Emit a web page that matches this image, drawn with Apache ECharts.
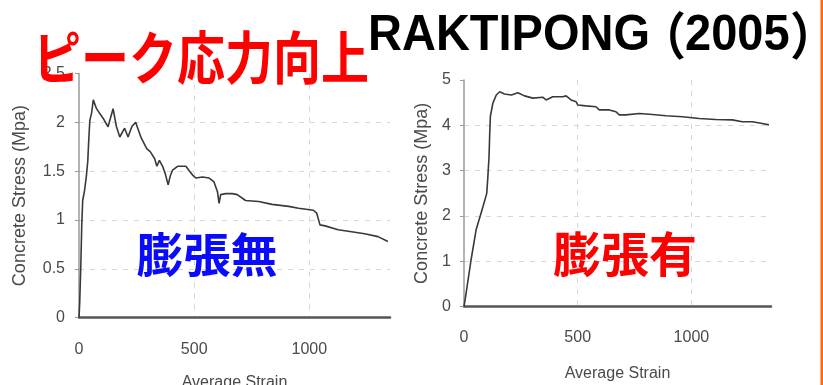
<!DOCTYPE html>
<html>
<head>
<meta charset="utf-8">
<script src="https://cdn.jsdelivr.net/npm/echarts@6/dist/echarts.min.js"></script>
<style>
  html, body { margin: 0; padding: 0; background: #ffffff; }
  #chart { width: 823px; height: 385px; }
</style>
</head>
<body>
<div id="chart"></div>
<script>
// Stress-strain curves, unexpanded (膨張無) and expanded (膨張有) concrete
var strainTicks = [0, 500, 1000];
var leftYTicks = [0, 0.5, 1, 1.5, 2, 2.5];
var rightYTicks = [0, 1, 2, 3, 4, 5];

var plainStrain = [0, 3, 8, 12, 16, 24, 32, 38, 43, 47, 55, 62, 76, 105, 126, 148, 162, 177, 198, 213, 230, 246, 258, 270, 294, 309, 328, 338, 349, 363, 375, 387, 396, 406, 428, 464, 480, 493, 507, 536, 565, 586, 601, 608, 615, 637, 665, 687, 723, 780, 838, 910, 953, 1017, 1032, 1046, 1068, 1125, 1183, 1240, 1298, 1341];
var plainStress = [0, 0.15, 0.55, 0.95, 1.2, 1.3, 1.45, 1.6, 1.85, 2.02, 2.1, 2.23, 2.14, 2.04, 1.955, 2.14, 1.96, 1.85, 1.94, 1.85, 1.96, 2.0, 1.92, 1.84, 1.73, 1.70, 1.63, 1.55, 1.61, 1.55, 1.47, 1.36, 1.45, 1.51, 1.55, 1.55, 1.5, 1.46, 1.43, 1.44, 1.43, 1.39, 1.29, 1.17, 1.26, 1.27, 1.27, 1.26, 1.2, 1.19, 1.16, 1.14, 1.12, 1.10, 1.07, 0.95, 0.94, 0.90, 0.88, 0.86, 0.83, 0.78];

var expStrain = [0, 9, 31, 53, 83, 100, 105, 110, 113, 116, 124, 127, 142, 157, 178, 208, 237, 266, 303, 346, 361, 390, 434, 449, 471, 493, 500, 536, 580, 595, 639, 668, 683, 712, 771, 829, 888, 961, 1034, 1107, 1180, 1224, 1268, 1312, 1341];
var expStress = [0, 0.29, 1.03, 1.69, 2.2, 2.5, 2.87, 3.3, 3.8, 4.2, 4.41, 4.49, 4.67, 4.74, 4.69, 4.67, 4.72, 4.65, 4.6, 4.62, 4.56, 4.63, 4.63, 4.65, 4.56, 4.52, 4.45, 4.43, 4.41, 4.34, 4.34, 4.3, 4.23, 4.23, 4.26, 4.24, 4.21, 4.19, 4.15, 4.13, 4.12, 4.08, 4.08, 4.04, 4.01];

function pairs(xs, ys) {
  return xs.map(function (x, i) { return [x, ys[i]]; });
}

var axisFont = 'Liberation Sans, Arial, sans-serif';
var labelColor = '#4a4a4a';
var gridDash = {
  show: true, showMinLine: false, showMaxLine: false,
  lineStyle: { color: '#d6d6d6', type: [5, 6], width: 1 }
};

function xAxisFor(gridIndex, nameGap, margin) {
  return {
    type: 'value', gridIndex: gridIndex, min: 0, max: 1350, interval: 500,
    name: 'Average Strain', nameLocation: 'middle', nameGap: nameGap,
    nameTextStyle: { fontFamily: axisFont, fontSize: 16, color: labelColor },
    axisLine: { lineStyle: { color: '#555555', width: 2.5 } },
    axisTick: { show: false },
    axisLabel: {
      margin: margin, fontFamily: axisFont, fontSize: 16, color: labelColor,
      formatter: function (v) { return strainTicks.indexOf(v) >= 0 ? String(v) : ''; }
    },
    splitLine: gridDash
  };
}

function yAxisFor(gridIndex, max, interval, ticks, nameGap, margin) {
  return {
    type: 'value', gridIndex: gridIndex, min: 0, max: max, interval: interval,
    name: 'Concrete Stress (Mpa)', nameLocation: 'middle', nameGap: nameGap,
    nameTextStyle: { fontFamily: axisFont, fontSize: 18, color: labelColor },
    axisLine: { show: true, lineStyle: { color: '#9a9a9a', width: 1.5 } },
    axisTick: { show: true, length: 4, lineStyle: { color: '#9a9a9a' } },
    axisLabel: {
      margin: margin, fontFamily: axisFont, fontSize: 16, color: labelColor,
      formatter: function (v) { return ticks.indexOf(v) >= 0 ? String(v) : ''; }
    },
    splitLine: gridDash
  };
}

var chart = echarts.init(document.getElementById('chart'), null, { renderer: 'canvas' });

chart.setOption({
  backgroundColor: '#ffffff',
  animation: false,
  grid: [
    { left: 79, right: 433, top: 73.5, bottom: 67.3, outerBoundsMode: 'none', containLabel: false },
    { left: 464, right: 52, top: 80, bottom: 78.3, outerBoundsMode: 'none', containLabel: false }
  ],
  xAxis: [xAxisFor(0, 57, 24), xAxisFor(1, 59, 23)],
  yAxis: [
    yAxisFor(0, 2.5, 0.5, leftYTicks, 50, 14),
    yAxisFor(1, 5, 1, rightYTicks, 33, 13)
  ],
  series: [
    {
      type: 'line', xAxisIndex: 0, yAxisIndex: 0, data: pairs(plainStrain, plainStress),
      showSymbol: false, lineStyle: { color: '#3c3838', width: 1.6 }, z: 3
    },
    {
      type: 'line', xAxisIndex: 1, yAxisIndex: 1, data: pairs(expStrain, expStress),
      showSymbol: false, lineStyle: { color: '#3c3838', width: 1.6 }, z: 3
    }
  ],
  graphic: [
    {
      type: 'text', x: 33, y: 57, scaleY: 1.18, z: 100,
      style: {
        text: 'ピーク応力向上', fill: '#ff0000',
        font: 'bold 48px "Noto Sans CJK JP"', textAlign: 'left', textVerticalAlign: 'middle'
      }
    },
    {
      type: 'text', x: 368, y: 36, scaleY: 1.08, z: 100,
      style: {
        text: 'RAKTIPONG', fill: '#000000',
        font: 'bold 47px "Liberation Sans", Arial, sans-serif', textAlign: 'left', textVerticalAlign: 'middle'
      }
    },
    {
      type: 'text', x: 686, y: 36, scaleY: 1.08, z: 100,
      style: {
        text: '（', fill: '#000000',
        font: 'bold 47px "Noto Sans CJK JP"', textAlign: 'right', textVerticalAlign: 'middle'
      }
    },
    {
      type: 'text', x: 685, y: 36, scaleY: 1.08, z: 100,
      style: {
        text: '2005', fill: '#000000',
        font: 'bold 47px "Liberation Sans", Arial, sans-serif', textAlign: 'left', textVerticalAlign: 'middle'
      }
    },
    {
      type: 'text', x: 790, y: 36, scaleY: 1.08, z: 100,
      style: {
        text: '）', fill: '#000000',
        font: 'bold 47px "Noto Sans CJK JP"', textAlign: 'left', textVerticalAlign: 'middle'
      }
    },
    {
      type: 'text', x: 207, y: 254, z: 100,
      style: {
        text: '膨張無', fill: '#0a0aff',
        font: 'bold 47px "Noto Sans CJK JP"', textAlign: 'center', textVerticalAlign: 'middle'
      }
    },
    {
      type: 'text', x: 625, y: 254, z: 100,
      style: {
        text: '膨張有', fill: '#ff0000',
        font: 'bold 48px "Noto Sans CJK JP"', textAlign: 'center', textVerticalAlign: 'middle'
      }
    },
    {
      type: 'rect', z: 100,
      shape: { x: 820.5, y: 0, width: 2.5, height: 385 },
      style: { fill: '#ff6a10' }
    }
  ]
});
</script>
</body>
</html>
